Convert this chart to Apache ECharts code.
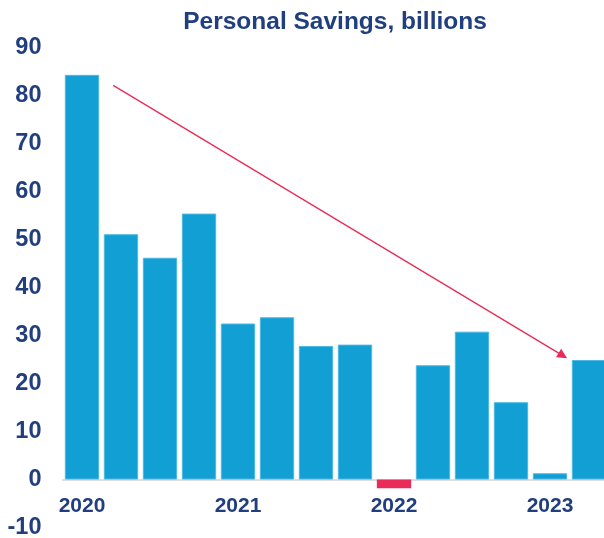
<!DOCTYPE html>
<html>
<head>
<meta charset="utf-8">
<script src="https://cdn.jsdelivr.net/npm/echarts@6/dist/echarts.min.js"></script>
<style>
  html, body { margin: 0; padding: 0; background: #ffffff; }
  #chart { width: 604px; height: 538px; }
</style>
</head>
<body>
<div id="chart"></div>
<script>
// Quarterly personal savings, billions
const quarters = ['2020Q1','2020Q2','2020Q3','2020Q4','2021Q1','2021Q2','2021Q3','2021Q4',
                  '2022Q1','2022Q2','2022Q3','2022Q4','2023Q1','2023Q2'];
const savings = [84.3, 51.1, 46.2, 55.4, 32.5, 33.8, 27.8, 28.1, -1.8, 23.8, 30.8, 16.1, 1.3, 24.9];
const yTicks = [-10, 0, 10, 20, 30, 40, 50, 60, 70, 80, 90];

// Trend arrow, in [quarter position, value]
const trendStart = [0.8, 82.1];
const trendEnd = [12.33, 25.8];

const navy = '#213f7e';
const blue = '#12a0d4';
const red = '#ea2a58';
const font = 'Liberation Sans, Arial, sans-serif';

const chart = echarts.init(document.getElementById('chart'), null, { renderer: 'canvas' });

const yMin = yTicks[0], yMax = yTicks[yTicks.length - 1];
const gridTop = 47.5, gridHeight = 480;
// lift the category axis from the grid bottom up to the zero line
const zeroOffset = -gridHeight * (0 - yMin) / (yMax - yMin);

chart.setOption({
  animation: false,
  backgroundColor: '#ffffff',
  title: {
    text: 'Personal Savings, billions',
    left: 330, top: 5, textAlign: 'center',
    textStyle: { color: navy, fontFamily: font, fontWeight: 'bold', fontSize: 24.5 }
  },
  grid: {
    left: 62.5, right: -4.5, top: gridTop, height: gridHeight,
    containLabel: false, outerBoundsMode: 'none'
  },
  xAxis: [{
    type: 'category',
    data: quarters,
    offset: zeroOffset,
    axisLine: { show: true, onZero: false, lineStyle: { color: '#d4d4d4', width: 1.5 } },
    axisTick: { show: false },
    axisLabel: {
      interval: 3,
      margin: 16,
      color: navy,
      fontFamily: font,
      fontWeight: 'bold',
      fontSize: 21,
      formatter: v => v.slice(0, 4)
    }
  }, {
    type: 'value', min: -0.5, max: 13.5, show: false
  }],
  yAxis: {
    type: 'value',
    min: yMin, max: yMax, interval: 10,
    splitLine: { show: false },
    axisLine: { show: false },
    axisTick: { show: false },
    axisLabel: {
      margin: 21,
      color: navy,
      fontFamily: font,
      fontWeight: 'bold',
      fontSize: 23.5
    }
  },
  series: [{
    type: 'bar',
    data: savings.map(v => ({
      value: v,
      itemStyle: { color: v < 0 ? red : blue, borderColor: v < 0 ? red : '#4db8e2', borderWidth: v < 0 ? 0 : 1 }
    })),
    barCategoryGap: '12%'
  }, {
    type: 'line',
    xAxisIndex: 1,
    data: [],
    silent: true,
    markLine: {
      silent: true,
      symbol: ['none', 'triangle'],
      symbolSize: [10, 10],
      label: { show: false },
      lineStyle: { color: red, width: 1.3, type: 'solid' },
      data: [[{ coord: trendStart }, { coord: trendEnd }]]
    }
  }]
});
</script>
</body>
</html>
